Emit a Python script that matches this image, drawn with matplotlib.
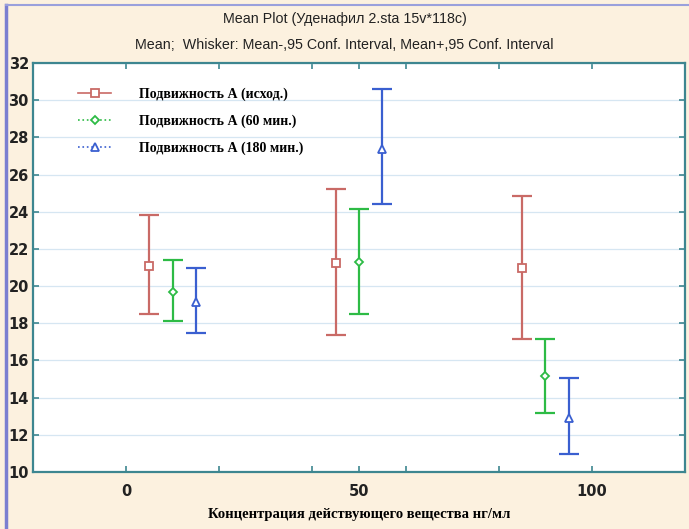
import matplotlib
matplotlib.use("Agg")
import matplotlib.pyplot as plt
from matplotlib.lines import Line2D
from matplotlib.ticker import FixedLocator

# Data
series_names = ["Подвижность А (исход.)", "Подвижность А (60 мин.)", "Подвижность А (180 мин.)"]
concentrations = [0, 50, 100]
x_positions = [[5, 45, 85], [10, 50, 90], [15, 55, 95]]
means = [[21.1, 21.25, 21.0], [19.7, 21.3, 15.15], [19.15, 27.4, 12.9]]
lower = [[18.5, 17.35, 17.15], [18.1, 18.5, 13.15], [17.5, 24.4, 10.95]]
upper = [[23.8, 25.2, 24.85], [21.4, 24.15, 17.15], [21.0, 30.6, 15.05]]
colors = ["#c96a66", "#2dbb45", "#3a5fd0"]
markers = ["s", "D", "^"]
msizes = [6, 4, 5.5]

fig = plt.figure(figsize=(6.89, 5.29), dpi=100)
fig.patch.set_facecolor("#fcf1df")
ax = fig.add_axes([33/689, (529-472)/529, (685-33)/689, (472-63)/529])
ax.set_facecolor("white")

for i in range(3):
    for j in range(3):
        x = x_positions[i][j]
        m = means[i][j]
        ax.errorbar([x], [m], yerr=[[m - lower[i][j]], [upper[i][j] - m]],
                    fmt="none", ecolor=colors[i], elinewidth=1.6, capsize=7, capthick=1.6, zorder=3)
        ax.plot([x], [m], marker=markers[i], ms=msizes[i], mfc="white", mec=colors[i], mew=1.3, zorder=4)

ax.set_xlim(-20, 120)
ax.set_ylim(10, 32)
ax.set_yticks(range(10, 33, 2))
ax.set_xticks(concentrations)
ax.xaxis.set_minor_locator(FixedLocator([20, 40, 60, 80]))
ax.grid(axis="y", color="#d6e6f2", lw=0.9)
ax.set_axisbelow(True)
spine_c = "#3d8690"
for s in ax.spines.values():
    s.set_color(spine_c)
    s.set_linewidth(1.6)
ax.tick_params(axis="both", which="both", direction="in", color=spine_c, width=1.2, length=4,
               top=True, right=True)
ax.tick_params(axis="y", which="major", labelsize=10.5, pad=3)
ax.tick_params(axis="x", which="major", labelsize=10.5, pad=9)
for lab in ax.get_xticklabels() + ax.get_yticklabels():
    lab.set_fontweight("bold")
    lab.set_color("#222222")

ax.set_xlabel("Концентрация действующего вещества нг/мл", fontfamily="Liberation Serif",
              fontweight="bold", fontsize=10.5, labelpad=6)

handles = []
for i in range(3):
    h = Line2D([0], [0], color=colors[i], lw=1.2, ls="-" if i == 0 else ":",
               marker=markers[i], ms=msizes[i], mfc="white", mec=colors[i], mew=1.3)
    handles.append(h)
leg = ax.legend(handles, series_names, loc="upper left", bbox_to_anchor=(0.05, 0.97),
                frameon=False, prop={"family": "Liberation Serif", "weight": "bold", "size": 10},
                handlelength=2.4, handletextpad=2.0, labelspacing=0.95)

fig.text(0.5, 1 - 19/529, "Mean Plot (Уденафил 2.sta 15v*118c)", ha="center", va="center",
         fontsize=10.3, fontfamily="Liberation Sans", color="#222222")
fig.text(0.5, 1 - 45/529, "Mean;  Whisker: Mean-,95 Conf. Interval, Mean+,95 Conf. Interval",
         ha="center", va="center", fontsize=10.3, fontfamily="Liberation Sans", color="#222222")

# Frame lines (left and top border)
fig.add_artist(Line2D([6/689, 6/689], [0, 1 - 5/529], transform=fig.transFigure, color="#7b7fd0", lw=2.5))
fig.add_artist(Line2D([6/689, 1], [1 - 5/529, 1 - 5/529], transform=fig.transFigure, color="#9aa0dc", lw=1.5))

fig.savefig("out.png", dpi=100, facecolor=fig.get_facecolor())
